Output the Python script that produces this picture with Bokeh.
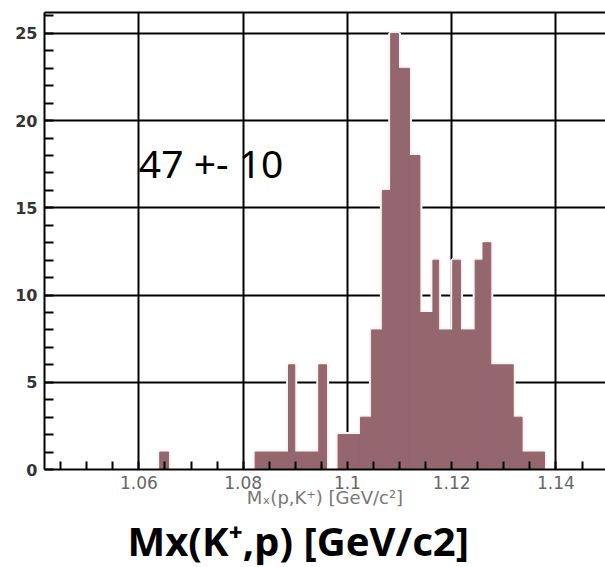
from bokeh.plotting import figure
from bokeh.models import FixedTicker, LinearAxis, Label, Title, Range1d, ColumnDataSource
from bokeh.embed import file_html
from bokeh.resources import INLINE

# ---- data ----
bin_left = [1.0640, 1.0823, 1.0887, 1.0899, 1.0945, 1.0982, 1.1025, 1.1046, 1.1067, 1.1083, 1.1098,
            1.1119, 1.1139, 1.1164, 1.1175, 1.1202, 1.1217, 1.1245, 1.1260, 1.1275, 1.1318, 1.1335]
bin_right = [1.0657, 1.0887, 1.0899, 1.0945, 1.0960, 1.1025, 1.1046, 1.1067, 1.1083, 1.1098, 1.1119,
             1.1139, 1.1164, 1.1175, 1.1202, 1.1217, 1.1245, 1.1260, 1.1275, 1.1318, 1.1335, 1.1378]
counts = [1, 1, 6, 1, 6, 2, 3, 8, 16, 25, 23, 18, 9, 12, 8, 12, 8, 12, 13, 6, 3, 1]

x_ticks = [1.06, 1.08, 1.1, 1.12, 1.14]
x_tick_labels = ["1.06", "1.08", "1.1", "1.12", "1.14"]
x_minor_ticks = [1.045, 1.05, 1.055, 1.065, 1.07, 1.075, 1.085, 1.09, 1.095, 1.105, 1.11,
                 1.115, 1.125, 1.13, 1.135, 1.145]
y_ticks = [0, 5, 10, 15, 20, 25]
y_minor_ticks = [1, 2, 3, 4, 6, 7, 8, 9, 11, 12, 13, 14, 16, 17, 18, 19, 21, 22, 23, 24, 26]

annotation_text = "47 +- 10"
x_axis_title = "Mₓ(p,K⁺) [GeV/c²]"
caption = "Mx(K⁺,p) [GeV/c2]"

BAR = "#94666e"

p = figure(width=605, height=567,
           x_range=Range1d(1.0419, 1.1495), y_range=Range1d(0, 26.2),
           output_backend="svg", toolbar_location=None,
           min_border_left=44, min_border_right=0, min_border_top=12, min_border_bottom=97)
p.outline_line_color = None
p.background_fill_color = "white"
p.border_fill_color = "white"

src = ColumnDataSource(dict(left=bin_left, right=bin_right, top=counts, bottom=[0] * len(counts)))
# light halo around the histogram contour
p.quad(left="left", right="right", top="top", bottom="bottom", source=src,
       fill_color=None, line_color="#fbf4f5", line_width=5)
p.quad(left="left", right="right", top="top", bottom="bottom", source=src,
       fill_color=BAR, line_color=BAR, line_width=1)

# x axis
xa = p.xaxis[0]
xa.ticker = FixedTicker(ticks=x_ticks, minor_ticks=x_minor_ticks)
xa.major_label_overrides = {t: l for t, l in zip(x_ticks, x_tick_labels)}
xa.major_tick_in = 8
xa.major_tick_out = 0
xa.minor_tick_in = 8
xa.minor_tick_out = 0
xa.major_tick_line_width = 2
xa.minor_tick_line_width = 2
xa.axis_line_width = 2
xa.axis_line_color = "black"
xa.major_label_text_font = "DejaVu Sans"
xa.major_label_text_font_size = "17px"
xa.major_label_text_color = "#666666"
xa.major_label_standoff = 6
xa.axis_label = x_axis_title
xa.axis_label_text_font = "DejaVu Sans"
xa.axis_label_text_font_size = "18px"
xa.axis_label_text_font_style = "normal"
xa.axis_label_text_color = "#777777"
xa.axis_label_standoff = -5

# y axis
ya = p.yaxis[0]
ya.ticker = FixedTicker(ticks=y_ticks, minor_ticks=y_minor_ticks)
ya.major_tick_in = 9
ya.major_tick_out = 0
ya.minor_tick_in = 9
ya.minor_tick_out = 0
ya.major_tick_line_width = 2
ya.minor_tick_line_width = 2
ya.axis_line_width = 2
ya.axis_line_color = "black"
ya.major_label_text_font = "DejaVu Sans"
ya.major_label_text_font_size = "16px"
ya.major_label_text_font_style = "bold"
ya.major_label_text_color = "#333333"
ya.major_label_standoff = 7

# top border as a bare axis
top = LinearAxis(ticker=FixedTicker(ticks=[]), major_label_text_font_size="0px",
                 major_tick_in=0, major_tick_out=0, minor_tick_in=0, minor_tick_out=0,
                 major_label_standoff=0, axis_line_width=2, axis_line_color="black")
p.add_layout(top, "above")

# grid
p.xgrid.grid_line_color = "black"
p.xgrid.grid_line_width = 2
p.ygrid.grid_line_color = "black"
p.ygrid.grid_line_width = 2

p.add_layout(Label(x=1.06, y=17.6, text=annotation_text, text_font="Noto Sans",
                   text_font_size="39px", text_color="black", text_baseline="middle"))

# caption below the chart
t = Title(text=caption, align="left", offset=83, standoff=0, text_font="Noto Sans",
          text_font_size="40px", text_font_style="bold", text_color="black")
p.add_layout(t, "below")

open("out.html", "w").write(file_html(p, INLINE))
